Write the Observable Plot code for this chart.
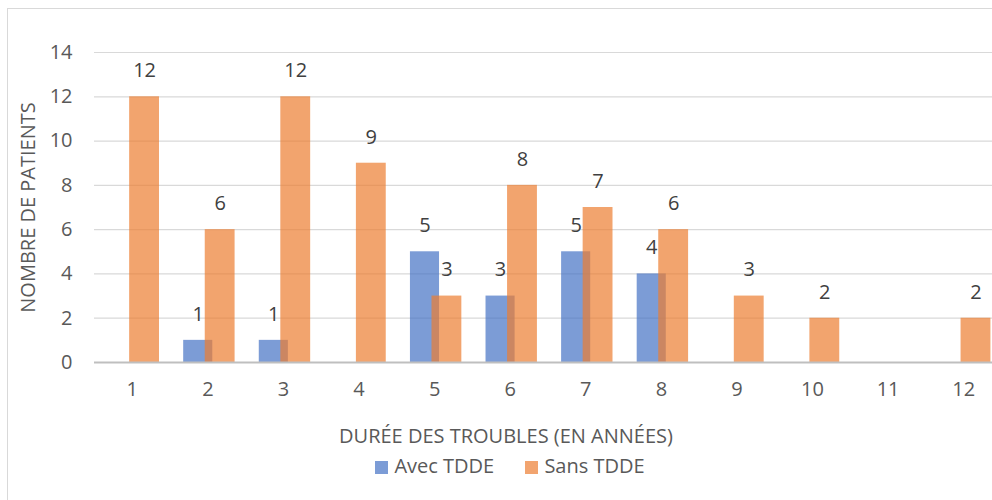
<!DOCTYPE html>
<html>
<head>
<meta charset="utf-8">
<script src="https://cdn.jsdelivr.net/npm/d3@7"></script>
<script src="https://cdn.jsdelivr.net/npm/@observablehq/plot@0.6"></script>
<style>
  html, body { margin: 0; padding: 0; background: #fff; overflow: hidden; }
  body { width: 992px; height: 500px; position: relative; font-family: "Open Sans", sans-serif; }
  #frame { position: absolute; left: 7px; top: 8px; width: 1100px; height: 600px; border: 1.5px solid #d9d9d9; box-sizing: border-box; }
  #chart { position: absolute; left: 0; top: 0; }
  #xtitle { position: absolute; left: 0; width: 1012px; top: 422px; text-align: center; font-size: 20px; color: #595959; line-height: 28px; }
  #legend { position: absolute; left: 0; width: 1020px; top: 452px; text-align: center; font-size: 20px; color: #595959; line-height: 28px; }
  .sw { display: inline-block; width: 13px; height: 13px; margin-right: 6px; vertical-align: -1px; }
  .item { display: inline-block; margin: 0 13px; }
</style>
</head>
<body>
<div id="frame"></div>
<div id="chart"></div>
<div id="xtitle">DURÉE DES TROUBLES (EN ANNÉES)</div>
<div id="legend">
  <span class="item"><span class="sw" style="background:#7c9cd6"></span>Avec TDDE</span>
  <span class="item"><span class="sw" style="background:#f2a46f"></span>Sans TDDE</span>
</div>
<script>
// Data
const categories = [1, 2, 3, 4, 5, 6, 7, 8, 9, 10, 11, 12];
const avecTDDE = [null, 1, 1, null, 5, 3, 5, 4, null, null, null, null];
const sansTDDE = [12, 6, 12, 9, 3, 8, 7, 6, 3, 2, null, 2];
const yTicks = [0, 2, 4, 6, 8, 10, 12, 14];
const seriesNames = ["Avec TDDE", "Sans TDDE"];

const rows = categories.map((c, i) => ({cat: c, avec: avecTDDE[i], sans: sansTDDE[i]}));
const avecRows = rows.filter(d => d.avec != null);
const sansRows = rows.filter(d => d.sans != null);

// bar placement within each category (in category units)
const blueLo = -0.32, blueHi = 0.065;
const orangeLo = -0.035, orangeHi = 0.36;

const blue = "#4472C4", orange = "#ED7D31";

const chart = Plot.plot({
  width: 992,
  height: 410,
  marginTop: 52,
  marginBottom: 48,
  marginLeft: 94,
  marginRight: 0,
  style: {fontFamily: "'Open Sans', sans-serif", overflow: "hidden"},
  x: {type: "linear", domain: [0.5, 12.5], range: [94, 1001]},
  y: {domain: [0, 14], range: [362, 52]},
  marks: [
    Plot.gridY(yTicks, {stroke: "#d9d9d9", strokeOpacity: 1, strokeWidth: 1.2}),
    Plot.rectY(avecRows, {x1: d => d.cat + blueLo, x2: d => d.cat + blueHi, y1: 0, y2: "avec", fill: blue, fillOpacity: 0.7}),
    Plot.rectY(sansRows, {x1: d => d.cat + orangeLo, x2: d => d.cat + orangeHi, y1: 0, y2: "sans", fill: orange, fillOpacity: 0.7}),
    Plot.ruleY([0], {stroke: "#bfbfbf", strokeWidth: 2}),
    Plot.text(avecRows, {x: d => d.cat + (blueLo + blueHi) / 2, y: "avec", text: d => String(d.avec), dy: -26, fontSize: 20, fill: "#404040"}),
    Plot.text(sansRows, {x: d => d.cat + (orangeLo + orangeHi) / 2, y: "sans", text: d => String(d.sans), dy: -26, fontSize: 20, fill: "#404040"}),
    Plot.axisX(categories, {tickSize: 0, tickPadding: 19, fontSize: 20, fill: "#595959", label: null, tickFormat: d => String(d)}),
    Plot.axisY(yTicks, {tickSize: 0, tickPadding: 22, fontSize: 20, fill: "#595959", label: "NOMBRE DE PATIENTS", labelAnchor: "center", labelArrow: "none", labelOffset: 74, tickFormat: d => String(d)})
  ]
});
document.getElementById("chart").appendChild(chart);
</script>
</body>
</html>
